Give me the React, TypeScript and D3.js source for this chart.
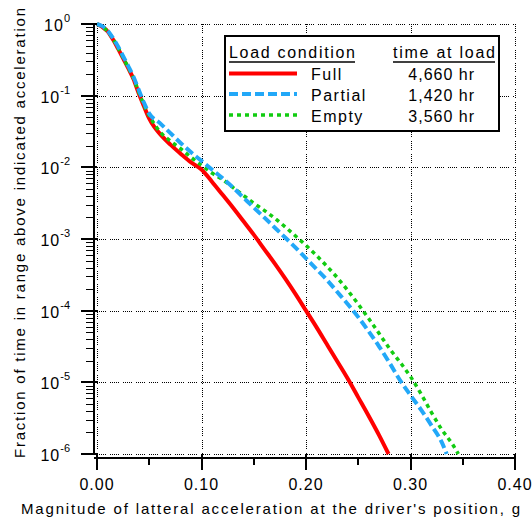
import React from "react";
import * as d3 from "d3";

const fullX = [0, 0.005, 0.01, 0.015, 0.02, 0.025, 0.03, 0.035, 0.04, 0.045, 0.05, 0.055, 0.06, 0.07, 0.08, 0.09, 0.10, 0.11, 0.12, 0.13, 0.14, 0.15, 0.16, 0.17, 0.18, 0.19, 0.20, 0.21, 0.22, 0.23, 0.24, 0.25, 0.26, 0.27, 0.279];
const fullY = [1, 0.912, 0.794, 0.617, 0.457, 0.331, 0.240, 0.170, 0.107, 0.0708, 0.0479, 0.0363, 0.0295, 0.0209, 0.0155, 0.0117, 0.00933, 0.00631, 0.00417, 0.00275, 0.00178, 0.00115, 0.000724, 0.000457, 0.000282, 0.000170, 0.0001, 5.89e-5, 3.39e-5, 1.95e-5, 1.12e-5, 6.17e-6, 3.39e-6, 1.82e-6, 1e-6];

const partialX = [0, 0.005, 0.01, 0.015, 0.02, 0.025, 0.03, 0.035, 0.04, 0.045, 0.05, 0.06, 0.07, 0.08, 0.09, 0.10, 0.11, 0.12, 0.13, 0.14, 0.15, 0.16, 0.17, 0.18, 0.19, 0.20, 0.21, 0.22, 0.23, 0.24, 0.25, 0.26, 0.27, 0.28, 0.29, 0.30, 0.31, 0.32, 0.33, 0.3346];
const partialY = [1, 0.933, 0.813, 0.646, 0.490, 0.355, 0.257, 0.182, 0.120, 0.0794, 0.0562, 0.0417, 0.0302, 0.0219, 0.0162, 0.0123, 0.00933, 0.00708, 0.00525, 0.00380, 0.00275, 0.00200, 0.00145, 0.00105, 0.000759, 0.000537, 0.000380, 0.000269, 0.000182, 0.000123, 8.13e-5, 5.13e-5, 3.16e-5, 1.86e-5, 1.07e-5, 6.61e-6, 4.17e-6, 2.51e-6, 1.45e-6, 1e-6];

const emptyX = [0, 0.005, 0.01, 0.015, 0.02, 0.025, 0.03, 0.035, 0.04, 0.045, 0.05, 0.055, 0.06, 0.07, 0.08, 0.09, 0.10, 0.11, 0.12, 0.13, 0.14, 0.15, 0.16, 0.17, 0.18, 0.19, 0.20, 0.21, 0.22, 0.23, 0.24, 0.25, 0.26, 0.27, 0.28, 0.29, 0.30, 0.31, 0.32, 0.33, 0.34, 0.3458];
const emptyY = [1, 0.912, 0.794, 0.631, 0.468, 0.339, 0.245, 0.174, 0.112, 0.0741, 0.0525, 0.0398, 0.0316, 0.0234, 0.0182, 0.0138, 0.0107, 0.00832, 0.00676, 0.00525, 0.00407, 0.00316, 0.00251, 0.00195, 0.00148, 0.00110, 0.000813, 0.000589, 0.000417, 0.000288, 0.000191, 0.000123, 7.76e-5, 4.79e-5, 2.95e-5, 1.91e-5, 1.20e-5, 6.92e-6, 3.80e-6, 2.19e-6, 1.38e-6, 1e-6];

const xTicks = [0, 0.1, 0.2, 0.3, 0.4];
const xTickLabels = ["0.00", "0.10", "0.20", "0.30", "0.40"];
const xMinorTicks = [0.05, 0.15, 0.25, 0.35];
const yDecades = [1, 1e-1, 1e-2, 1e-3, 1e-4, 1e-5, 1e-6];
const yExponents = ["0", "-1", "-2", "-3", "-4", "-5", "-6"];

const legendNames = ["Full", "Partial", "Empty"];
const legendHours = ["4,660 hr", "1,420 hr", "3,560 hr"];

const xTitle = "Magnitude of latteral acceleration at the driver's position, g";
const yTitle = "Fraction of time in range above indicated acceleration";

const FONT = "'Liberation Sans', Arial, sans-serif";

export default function App() {
  const W = 532, H = 523;
  const x = d3.scaleLinear().domain([0, 0.4]).range([97, 515]);
  const y = d3.scaleLog().domain([1e-6, 1]).range([454, 24]);
  const axisX = 94;
  const axisY = 458;

  const series = [
    { xs: fullX, ys: fullY, color: "#ff0000", dash: undefined as string | undefined, w: 4 },
    { xs: emptyX, ys: emptyY, color: "#11cc11", dash: "4,4", w: 3.5 },
    { xs: partialX, ys: partialY, color: "#22a8f8", dash: "9,4", w: 4 },
  ];
  const line = d3
    .line<[number, number]>()
    .x((d) => x(d[0]))
    .y((d) => y(d[1]))
    .curve(d3.curveMonotoneX);

  const minorY: number[] = [];
  for (let e = -6; e < 0; e++) {
    for (let m = 2; m <= 9; m++) minorY.push(m * Math.pow(10, e));
  }

  const gridDash = "1,1,1,1,1,1,1,1,1,4";

  const legendRowY = [73.5, 94, 115];
  const legendTextY = [80, 101, 122];
  const legendOrder = [0, 2, 1];

  return (
    <svg
      width={W}
      height={H}
      style={{ position: "absolute", left: 0, top: 0, background: "#fff" }}
      fontFamily={FONT}
    >
      <rect x={0} y={0} width={W} height={H} fill="#fff" />
      {/* grid */}
      <g stroke="#000" strokeWidth={1} strokeDasharray={gridDash} shapeRendering="crispEdges">
        {xTicks.map((t, i) => (
          <line key={"gx" + i} x1={x(t) + 0.5} x2={x(t) + 0.5} y1={y(1)} y2={y(1e-6)} />
        ))}
        {yDecades.map((t, i) => (
          <line key={"gy" + i} x1={x(0)} x2={x(0.4)} y1={y(t) + 0.5} y2={y(t) + 0.5} />
        ))}
      </g>

      {/* curves */}
      {series.map((s, i) => (
        <path
          key={"s" + i}
          d={line(s.xs.map((v, j) => [v, s.ys[j]] as [number, number])) || ""}
          fill="none"
          stroke={s.color}
          strokeWidth={s.w}
          strokeDasharray={s.dash}
        />
      ))}

      {/* y axis */}
      <g stroke="#000" shapeRendering="crispEdges">
        <line x1={axisX} x2={axisX} y1={y(1)} y2={y(1e-6)} strokeWidth={2} />
        {yDecades.map((t, i) => (
          <line key={"ym" + i} x1={81} x2={97} y1={y(t)} y2={y(t)} strokeWidth={2} />
        ))}
        {minorY.map((t, i) => (
          <line key={"yn" + i} x1={86} x2={axisX} y1={Math.round(y(t)) + 0.5} y2={Math.round(y(t)) + 0.5} strokeWidth={1.5} />
        ))}
      </g>
      <g fill="#000" fontSize={16}>
        {yDecades.map((t, i) => (
          <text key={"yl" + i} x={70} y={y(t) + 7} textAnchor="end">
            <tspan letterSpacing={1}>10</tspan>
            <tspan fontSize={11} dy={-9}>{yExponents[i]}</tspan>
          </text>
        ))}
      </g>

      {/* x axis */}
      <g stroke="#000" shapeRendering="crispEdges">
        <line x1={axisX} x2={x(0.4)} y1={axisY} y2={axisY} strokeWidth={2} />
        {xTicks.map((t, i) => (
          <line key={"xm" + i} x1={x(t)} x2={x(t)} y1={454} y2={470} strokeWidth={2} />
        ))}
        {xMinorTicks.map((t, i) => (
          <line key={"xn" + i} x1={x(t)} x2={x(t)} y1={axisY} y2={465} strokeWidth={2} />
        ))}
      </g>
      <g fill="#000" fontSize={16}>
        {xTicks.map((t, i) => (
          <text key={"xl" + i} x={x(t)} y={490} textAnchor="middle" letterSpacing={1}>
            {xTickLabels[i]}
          </text>
        ))}
      </g>

      {/* titles */}
      <text x={21} y={514} fontSize={15} textLength={499} lengthAdjust="spacing" fill="#000">
        {xTitle}
      </text>
      <text
        transform={`translate(25, 458) rotate(-90)`}
        x={0}
        y={0}
        fontSize={15}
        textLength={450}
        lengthAdjust="spacing"
        fill="#000"
      >
        {yTitle}
      </text>

      {/* legend */}
      <rect x={225} y={36} width={274} height={95} fill="#fff" stroke="#000" strokeWidth={2} shapeRendering="crispEdges" />
      <text x={229} y={58} fontSize={16} textLength={126} lengthAdjust="spacing" fill="#000">
        Load condition
      </text>
      <line x1={229} x2={355} y1={62} y2={62} stroke="#000" strokeWidth={1.5} />
      <text x={393} y={58} fontSize={16} textLength={102} lengthAdjust="spacing" fill="#000">
        time at load
      </text>
      <line x1={393} x2={495} y1={62} y2={62} stroke="#000" strokeWidth={1.5} />
      {legendOrder.map((si, row) => {
        const s = series[si];
        return (
          <g key={"lg" + row}>
            <line x1={229} x2={297} y1={legendRowY[row]} y2={legendRowY[row]} stroke={s.color} strokeWidth={s.w} strokeDasharray={s.dash} />
            <text x={311} y={legendTextY[row]} fontSize={16} letterSpacing={1.5} fill="#000">
              {legendNames[row]}
            </text>
            <text x={475} y={legendTextY[row]} fontSize={16} letterSpacing={1} textAnchor="end" fill="#000">
              {legendHours[row]}
            </text>
          </g>
        );
      })}
    </svg>
  );
}
